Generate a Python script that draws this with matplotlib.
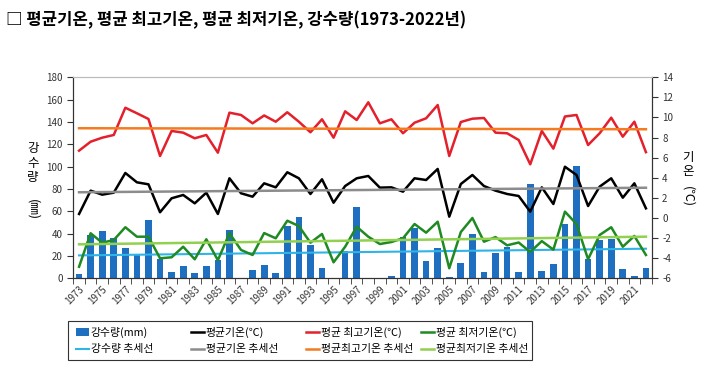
import matplotlib.pyplot as plt
from matplotlib.patches import Rectangle
import numpy as np

plt.rcParams['font.family'] = ['Noto Sans CJK KR', 'DejaVu Sans']
plt.rcParams['axes.unicode_minus'] = False

# 연도 (1973-2022)
years = list(range(1973, 2023))

# 강수량 (mm)
precip = [4, 39, 42, 36, 27, 21, 52, 17, 6, 11,
          5, 11, 16, 43, 0, 7, 11.5, 4.5, 46.5, 55,
          30, 9.5, 0, 24, 64, 0.5, 0, 2.4, 37, 45,
          15.5, 27, 1.5, 14, 39.7, 5.5, 22.4, 28, 5.4, 84.4,
          6.8, 12.8, 48.6, 100.6, 17, 34.3, 35, 8.2, 2.4, 8.8]

# 평균기온 (℃)
t_mean = [0.40, 2.72, 2.32, 2.52, 4.48, 3.55, 3.35, 0.57, 1.96, 2.29,
          1.46, 2.52, 0.40, 3.95, 2.46, 2.12, 3.45, 3.05, 4.55, 3.95,
          2.39, 3.85, 1.52, 3.18, 3.95, 4.18, 3.02, 3.05, 2.62, 3.95,
          3.78, 4.88, 0.13, 3.38, 4.28, 3.18, 2.72, 2.39, 2.19, 0.63,
          3.05, 1.39, 5.10, 4.28, 1.19, 3.12, 3.95, 2.02, 3.45, 0.96]

# 평균 최고기온 (℃)
t_max = [6.70, 7.59, 7.99, 8.26, 10.97, 10.42, 9.85, 6.17, 8.66, 8.49,
         7.93, 8.26, 6.50, 10.48, 10.25, 9.42, 10.20, 9.58, 10.52, 9.58,
         8.53, 9.82, 7.99, 10.61, 9.75, 11.51, 9.42, 9.82, 8.43, 9.48,
         9.92, 11.24, 6.17, 9.55, 9.88, 9.95, 8.49, 8.43, 7.76, 5.34,
         8.66, 6.90, 10.10, 10.25, 7.26, 8.43, 9.98, 8.09, 9.58, 6.55]

# 평균 최저기온 (℃)
t_min = [-4.85, -1.52, -2.46, -2.19, -0.92, -1.86, -1.86, -4.01, -3.91, -2.86,
         -4.11, -2.12, -4.20, -1.52, -3.18, -3.68, -1.50, -2.02, -0.27, -0.80,
         -2.46, -1.59, -4.41, -2.86, -0.87, -1.86, -2.59, -2.39, -2.02, -0.60,
         -1.46, -0.37, -5.00, -1.40, 0.00, -2.36, -1.90, -2.72, -2.44, -3.38,
         -2.30, -3.15, 0.63, -0.60, -4.11, -1.69, -0.92, -2.86, -1.79, -3.68]

# 추세선 시작값/끝값 (1973, 2022)
trend_precip = [20.5, 26.5]
trend_mean = [2.56, 3.01]
trend_max = [8.93, 8.83]
trend_min = [-2.62, -1.86]

x = np.arange(len(years))
x_ends = [x[0], x[-1]]

fig = plt.figure(figsize=(7.1, 3.73), dpi=100)
ax1 = fig.add_axes([0.1032, 0.2539, 0.8147, 0.5389])
ax2 = ax1.twinx()

# 강수량 막대 + 추세선
bars = ax1.bar(x, precip, width=0.58, color='#1F6FC0', zorder=2, label='강수량(mm)')
l_tp, = ax1.plot(x_ends, trend_precip, color='#2FB4E8', lw=1.5, zorder=3, label='강수량 추세선')

# 기온 선
l_mean, = ax2.plot(x, t_mean, color='black', lw=1.8, label='평균기온(℃)')
l_max, = ax2.plot(x, t_max, color='#E3202B', lw=1.8, label='평균 최고기온(℃)')
l_min, = ax2.plot(x, t_min, color='#1F8A22', lw=1.8, label='평균 최저기온(℃)')
l_tm, = ax2.plot(x_ends, trend_mean, color='#8C8C8C', lw=1.8, label='평균기온 추세선')
l_tx, = ax2.plot(x_ends, trend_max, color='#F47B20', lw=1.8, label='평균최고기온 추세선')
l_tn, = ax2.plot(x_ends, trend_min, color='#92D050', lw=1.8, label='평균최저기온 추세선')

ax1.set_xlim(-0.5, len(years) - 0.5)
ax1.set_ylim(0, 180)
ax1.set_yticks(range(0, 181, 20))
ax2.set_ylim(-6, 14)
ax2.set_yticks(range(-6, 15, 2))

ax1.set_xticks(x[::2])
ax1.set_xticklabels([str(y) for y in years[::2]], rotation=45, ha='right',
                    rotation_mode='anchor', fontsize=7, color='#333333')
ax1.set_xticks(np.arange(-0.5, len(years), 1), minor=True)
ax1.tick_params(axis='x', which='major', length=0, pad=4)
ax1.tick_params(axis='x', which='minor', length=4, color='#333333')
ax1.tick_params(axis='y', labelsize=7, length=4, color='#333333', labelcolor='#333333')
ax2.tick_params(axis='y', labelsize=7, length=4, color='#333333', labelcolor='#333333')

for ax in (ax1, ax2):
    ax.spines['top'].set_color('#BBBBBB')
    ax.spines['top'].set_linewidth(0.8)
    for s in ('left', 'right', 'bottom'):
        ax.spines[s].set_color('#333333')
        ax.spines[s].set_linewidth(0.8)

# 세로 축 제목
for i, ch in enumerate('강수량'):
    fig.text(33 / 710, 1 - (148 + 15 * i) / 373, ch, fontsize=9, ha='center', va='center')
fig.text(33 / 710, 1 - 209 / 373, '(㎜)', fontsize=9, rotation=270, ha='center', va='center')
for i, ch in enumerate('기온'):
    fig.text(688 / 710, 1 - (157 + 14 * i) / 373, ch, fontsize=9, ha='center', va='center')
fig.text(688 / 710, 1 - 196 / 373, '(℃)', fontsize=9, rotation=270, ha='center', va='center')

# 제목
fig.text(6 / 710, 1 - 20 / 373, '□ 평균기온, 평균 최고기온, 평균 최저기온, 강수량(1973-2022년)',
         fontsize=12, fontweight='bold', ha='left', va='center')

# 범례 (열마다 따로 배치)
columns = [(bars, l_tp), (l_mean, l_tm), (l_max, l_tx), (l_min, l_tn)]
col_x = [76, 191, 306, 421]
for cx, hs in zip(col_x, columns):
    lg = fig.legend(list(hs), [h.get_label() for h in hs], loc='center left',
                    bbox_to_anchor=(cx / 710, 1 - 340.5 / 373), fontsize=7.8,
                    handlelength=1.2, handletextpad=0.15, labelspacing=0.6,
                    borderpad=0, borderaxespad=0, frameon=False)
fig.patches.append(Rectangle((68 / 710, 1 - 360 / 373), 464 / 710, 39 / 373,
                             transform=fig.transFigure, fill=False,
                             edgecolor='#333333', linewidth=0.8))

fig.savefig('out.png', dpi=100)
